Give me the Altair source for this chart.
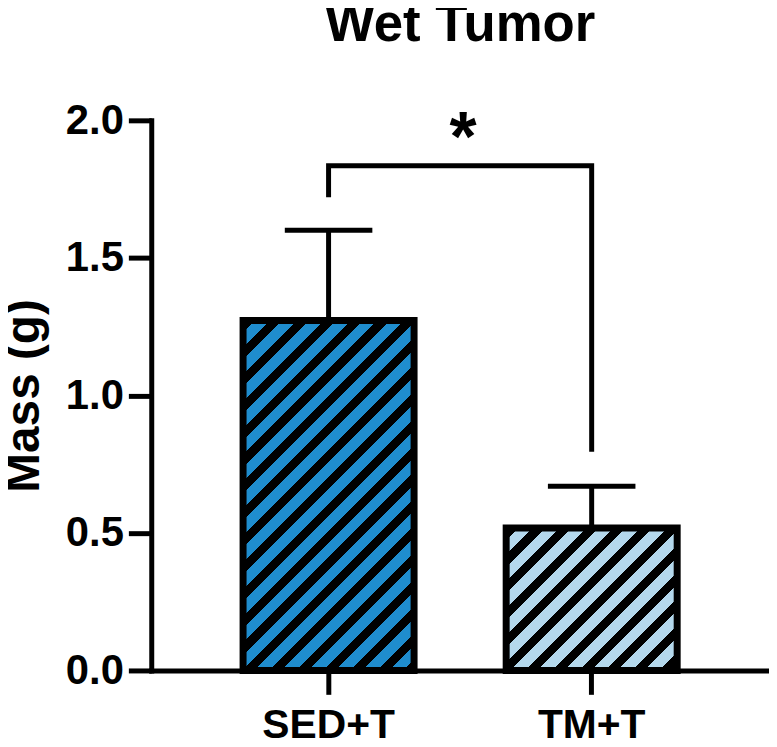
import altair as alt
import pandas as pd

# ---- data ----
groups = ["SED+T", "TM+T"]
means = [1.272, 0.518]
sems = [0.328, 0.152]

bracket_x = ["SED+T", "SED+T", "TM+T", "TM+T"]
bracket_y = [1.72, 1.835, 1.835, 0.795]
star_y = [1.965]
star_text = ["*"]

# ---- styling ----
FONT = "Liberation Sans"
fill_colors = ["#1f8dce", "#b4d8ec"]
W, H = 621, 553
Y_MAX = 2.0
P_INNER, P_OUTER = 0.35, 0.349
STEP = W / (len(groups) - P_INNER + 2 * P_OUTER)
BW = STEP * (1 - P_INNER)
PX_PER_UNIT = H / Y_MAX


def hatch(w, h, color, period=27.0, frac=0.45):
    k = (w + h) / (w * w + h * h)
    n = (w + h) / period
    stops = []
    i = 0
    while i < n:
        a = i / n
        b = min((i + frac) / n, 1.0)
        c = min((i + 1) / n, 1.0)
        stops += [
            alt.GradientStop(offset=a, color="black"),
            alt.GradientStop(offset=b, color="black"),
            alt.GradientStop(offset=b, color=color),
            alt.GradientStop(offset=c, color=color),
        ]
        i += 1
    return alt.LinearGradient(gradient="linear", x1=0, y1=0, x2=k * w, y2=k * h, stops=stops)


df = pd.DataFrame({"group": groups, "mean": means, "sem": sems})
df["top"] = df["mean"] + df["sem"]
br = pd.DataFrame({"group": bracket_x, "y": bracket_y, "idx": list(range(len(bracket_x)))})
st = pd.DataFrame({"group": [groups[0]], "y": star_y, "t": star_text})

xscale = alt.Scale(domain=groups, paddingInner=P_INNER, paddingOuter=P_OUTER)
yscale = alt.Scale(domain=[0, Y_MAX], nice=False)

x_axis = alt.Axis(
    title=None,
    ticks=True,
    bandPosition=0.5,
    labelAngle=0,
    labelAlign="center",
    labelBaseline="top",
    labelFont=FONT,
    labelFontSize=41,
    labelFontWeight="bold",
    labelColor="black",
    labelPadding=11,
    tickSize=24,
    tickWidth=5,
    tickColor="black",
    domainWidth=5,
    domainColor="black",
    domainCap="square",
)
y_axis = alt.Axis(
    title="Mass (g)",
    values=[0, 0.5, 1.0, 1.5, 2.0],
    format=".1f",
    grid=False,
    ticks=True,
    labelFont=FONT,
    labelFontSize=42,
    labelFontWeight="bold",
    labelColor="black",
    labelPadding=5,
    tickSize=23,
    tickWidth=5,
    tickColor="black",
    domainWidth=5,
    domainColor="black",
    domainCap="square",
    titleFont=FONT,
    titleFontSize=48,
    titleFontWeight="bold",
    titleColor="black",
    titlePadding=17,
)


def X():
    return alt.X("group:N", scale=xscale, sort=groups, axis=x_axis)


def Y(field):
    return alt.Y(field, scale=yscale, axis=y_axis)


base = alt.Chart(df)

err_rule = base.mark_rule(color="black", strokeWidth=5, opacity=1).encode(
    x=X(), y=Y("mean:Q"), y2="top:Q"
)
err_cap = base.mark_tick(color="black", thickness=5, size=88, opacity=1).encode(
    x=X(), y=Y("top:Q")
)

bars = []
for g, m, c in zip(groups, means, fill_colors):
    bars.append(
        base.transform_filter(alt.datum.group == g)
        .mark_bar(
            fill=hatch(BW, m * PX_PER_UNIT, c),
            stroke="black",
            strokeWidth=7,
            strokeJoin="miter",
            opacity=1,
        )
        .encode(x=X(), y=Y("mean:Q"))
    )

bracket = alt.Chart(br).mark_line(
    color="black", strokeWidth=5, strokeCap="butt", strokeJoin="miter"
).encode(
    x=X(),
    y=Y("y:Q"),
    order=alt.Order("idx:Q"),
)

star = alt.Chart(st).mark_text(
    font=FONT, fontSize=70, fontWeight="bold", color="black",
    dx=STEP / 2 + 3, baseline="middle", dy=10,
).encode(
    x=X(),
    y=Y("y:Q"),
    text="t:N",
)

chart = (
    alt.layer(err_rule, err_cap, *bars, bracket, star)
    .properties(
        width=W,
        height=H,
        title=alt.TitleParams(
            "Wet Tumor",
            font=FONT,
            fontSize=53,
            fontWeight="bold",
            color="black",
            anchor="middle",
            offset=48,
        ),
        autosize=alt.AutoSizeParams(type="none"),
        padding={"left": 144, "top": 111, "right": 0, "bottom": 70},
    )
    .configure_view(stroke=None)
)

chart.save("out.html", embed_options={"renderer": "svg", "actions": False})
